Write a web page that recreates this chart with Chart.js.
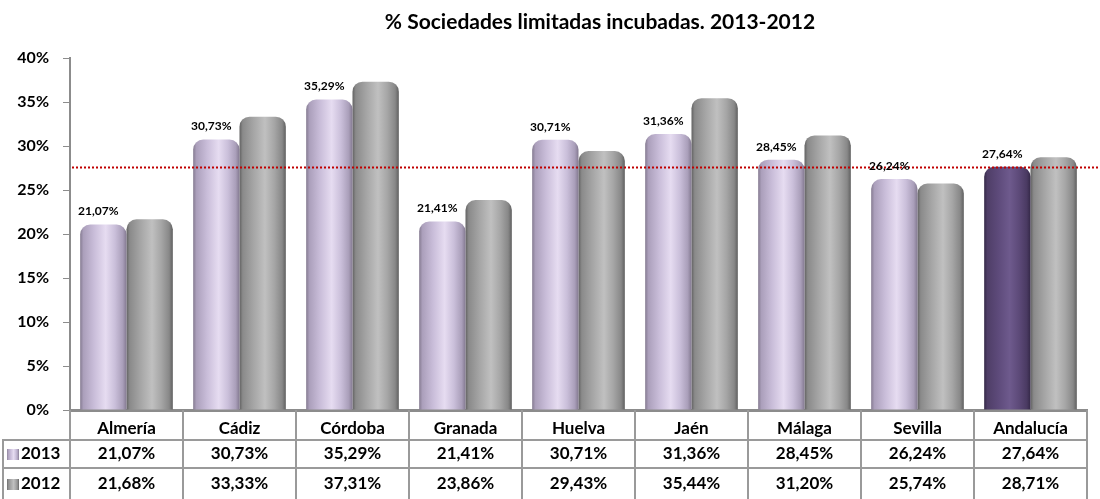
<!DOCTYPE html>
<html>
<head>
<meta charset="utf-8">
<script src="https://cdn.jsdelivr.net/npm/chart.js@4.4.1/dist/chart.umd.min.js"></script>
<style>
  html, body { margin: 0; padding: 0; background: #fff; }
  #wrap { width: 1100px; height: 499px; }
</style>
</head>
<body>
<div id="wrap"><canvas id="grafico1" width="1100" height="499"></canvas></div>
<script>
// datos
var categorias = ['Almería', 'Cádiz', 'Córdoba', 'Granada', 'Huelva', 'Jaén', 'Málaga', 'Sevilla', 'Andalucía'];
var valores2013 = [21.07, 30.73, 35.29, 21.41, 30.71, 31.36, 28.45, 26.24, 27.64];
var valores2012 = [21.68, 33.33, 37.31, 23.86, 29.43, 35.44, 31.20, 25.74, 28.71];
var series = ['2013', '2012'];
var lineaReferencia = 27.64;
var titulo = '% Sociedades limitadas incubadas. 2013-2012';

var FONT = 'Lato, "Open Sans", sans-serif';

var paletaLila = ['#857b91', '#ab9fbb', '#c9bdd9', '#e6dcf1', '#cabfda', '#a99eb9', '#837990'];
var paletaGris = ['#626262', '#8a8a8a', '#a5a5a5', '#c0c0c0', '#a6a6a6', '#888888', '#606060'];
var paletaMorado = ['#352948', '#4f3e67', '#5d4a7a', '#6e5a8d', '#5d4a79', '#4a3a62', '#342847'];
var posStops = [0, 0.07, 0.3, 0.55, 0.75, 0.92, 1];

function fmt(v) {
    return v.toFixed(2).replace('.', ',') + '%';
}

function degradado(ctx2d, left, right, paleta) {
    var g = ctx2d.createLinearGradient(left, 0, right, 0);
    for (var i = 0; i < posStops.length; i++) g.addColorStop(posStops[i], paleta[i]);
    return g;
}

function cilindro(dsIndex) {
    return function (context) {
        var chart = context.chart;
        var x = chart.scales.x;
        var paleta = dsIndex === 0 ? (context.dataIndex === categorias.length - 1 ? paletaMorado : paletaLila) : paletaGris;
        if (!chart.chartArea || !x || context.dataIndex === undefined) return paleta[2];
        var c = x.getPixelForValue(context.dataIndex);
        var cw = x.width / categorias.length;
        var half = cw * 0.41;
        var left = dsIndex === 0 ? c - half : c;
        return degradado(chart.ctx, left, left + half, paleta);
    };
}

var extras = {
    id: 'extras',
    afterDatasetsDraw: function (chart) {
        var ctx = chart.ctx;
        var y = chart.scales.y;
        var area = chart.chartArea;

        // linea de referencia
        ctx.save();
        ctx.strokeStyle = '#c00000';
        ctx.lineWidth = 2;
        ctx.setLineDash([2, 2]);
        var yr = Math.round(y.getPixelForValue(lineaReferencia)) + 0.5;
        ctx.beginPath();
        ctx.moveTo(area.left + 2, yr);
        ctx.lineTo(chart.width, yr);
        ctx.stroke();
        ctx.restore();

        // etiquetas 2013
        ctx.save();
        ctx.font = 'bold 12px ' + FONT;
        ctx.fillStyle = '#000';
        ctx.textAlign = 'center';
        ctx.textBaseline = 'bottom';
        var meta = chart.getDatasetMeta(0);
        meta.data.forEach(function (bar, i) {
            ctx.fillText(fmt(valores2013[i]), bar.x - 5, bar.y - 7);
        });
        ctx.restore();
    },
    afterDraw: function (chart) {
        var ctx = chart.ctx;
        var x = chart.scales.x;
        var area = chart.chartArea;
        var cw = x.width / categorias.length;

        // titulo
        ctx.save();
        ctx.font = 'bold 21px ' + FONT;
        ctx.fillStyle = '#000';
        ctx.textAlign = 'center';
        ctx.textBaseline = 'middle';
        ctx.fillText(titulo, 600, 22);
        ctx.restore();

        // tabla de datos
        var top = area.bottom;
        var filas = [top, 440, 468, 499];
        ctx.save();
        ctx.strokeStyle = '#9a9a9a';
        ctx.lineWidth = 2;
        ctx.beginPath();
        for (var r = 1; r < 3; r++) {
            ctx.moveTo(2, filas[r]);
            ctx.lineTo(area.right + 1, filas[r]);
        }
        for (var k = 0; k <= categorias.length; k++) {
            var xv = Math.round(x.left + k * cw);
            ctx.moveTo(xv, top);
            ctx.lineTo(xv, filas[3]);
        }
        ctx.moveTo(3, filas[1]);
        ctx.lineTo(3, filas[3]);
        ctx.stroke();

        ctx.fillStyle = '#000';
        ctx.textAlign = 'center';
        ctx.textBaseline = 'middle';
        ctx.font = 'bold 17px ' + FONT;
        categorias.forEach(function (cat, i) {
            var cx = x.getPixelForValue(i);
            ctx.fillText(cat, cx, 429);
            ctx.fillText(fmt(valores2013[i]), cx, 454);
            ctx.fillText(fmt(valores2012[i]), cx, 484);
        });

        // leyenda en la tabla
        var paletas = [paletaLila, paletaGris];
        var filasY = [454, 484];
        series.forEach(function (s, j) {
            var cy = filasY[j];
            ctx.fillStyle = degradado(ctx, 7, 19, paletas[j]);
            ctx.fillRect(7, cy - 5, 12, 11);
            ctx.fillStyle = '#000';
            ctx.textAlign = 'left';
            ctx.fillText(s, 21, cy);
        });
        ctx.restore();
    }
};

var grafico = new Chart(document.getElementById('grafico1'), {
    type: 'bar',
    data: {
        labels: categorias,
        datasets: [{
            label: series[0],
            data: valores2013,
            backgroundColor: cilindro(0),
            borderRadius: { topLeft: 10, topRight: 10 },
            borderSkipped: 'start',
            categoryPercentage: 0.82,
            barPercentage: 1.0
        }, {
            label: series[1],
            data: valores2012,
            backgroundColor: cilindro(1),
            borderRadius: { topLeft: 10, topRight: 10 },
            borderSkipped: 'start',
            categoryPercentage: 0.82,
            barPercentage: 1.0
        }]
    },
    options: {
        responsive: false,
        animation: false,
        layout: { padding: { top: 58, left: 0, right: 13, bottom: 0 } },
        plugins: {
            legend: { display: false },
            title: { display: false },
            tooltip: { enabled: false }
        },
        scales: {
            x: {
                grid: { display: false },
                border: { display: true, color: '#8c8c8c', width: 3 },
                ticks: { display: false },
                afterFit: function (scale) { scale.height = 89; }
            },
            y: {
                min: 0,
                max: 40,
                grid: { display: true, drawOnChartArea: false, drawTicks: true, tickLength: 7, color: '#8c8c8c', lineWidth: 1 },
                border: { display: true, color: '#8c8c8c', width: 2 },
                ticks: {
                    stepSize: 5,
                    padding: 14,
                    color: '#000',
                    font: { family: FONT, size: 16, weight: 'bold' },
                    callback: function (v) { return v + '%'; }
                },
                afterFit: function (scale) { scale.width = 70; }
            }
        }
    },
    plugins: [extras]
});
</script>
</body>
</html>
